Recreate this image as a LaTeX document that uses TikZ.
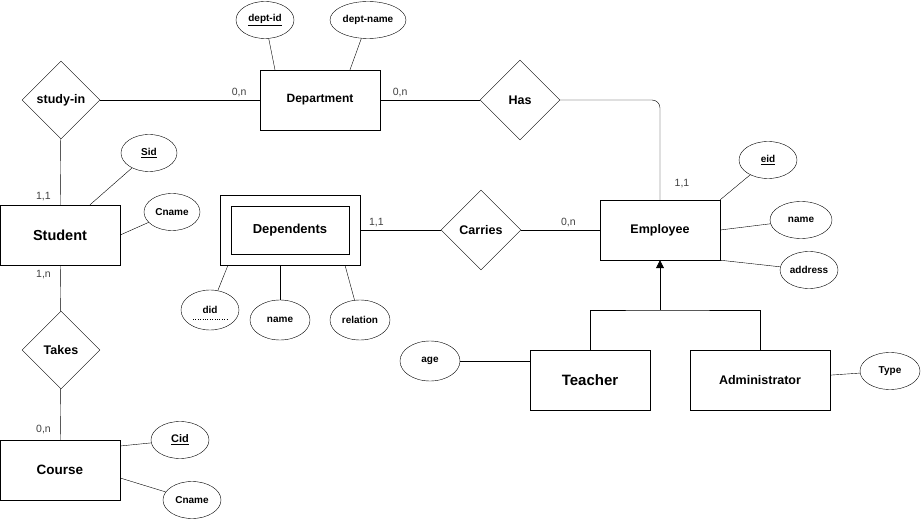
\documentclass[tikz,border=0pt]{standalone}
\usepackage{fontspec}
\setmainfont{Liberation Sans}
\usetikzlibrary{shapes.geometric, % For ellipse and diamond nodes
                arrows.meta,
                positioning,
               }
\tikzstyle{entity} = [rectangle, draw=black, minimum width=120pt, minimum height=60pt, font=\bfseries\fontsize{12}{14}\selectfont]
\tikzstyle{attr} = [ellipse, draw=black, inner sep=0pt, minimum width=58pt, minimum height=37pt, font=\bfseries\fontsize{10}{12}\selectfont]
\tikzstyle{rel} = [diamond, draw=black, inner sep=0pt, minimum width=80pt, minimum height=80pt, font=\bfseries\fontsize{12.5}{14}\selectfont]
\tikzstyle{card} = [text=black!75, font=\fontsize{10.5}{12}\selectfont]
\tikzstyle{link} = [draw=black]

\begin{document}
\begin{tikzpicture}[x=1pt, y=-1pt]
  \useasboundingbox (0,0) rectangle (921,521);
  % entities
  \node (dept) [entity] at (320,100) {Department};
  \node (student) [entity, font=\bfseries\fontsize{14.5}{16}\selectfont] at (60,235) {Student};
  \node (course) [entity, font=\bfseries\fontsize{13.5}{16}\selectfont] at (60,470) {Course};
  \node (emp) [entity, font=\bfseries\fontsize{12.5}{14}\selectfont] at (660,230) {Employee};
  \node (teacher) [entity, font=\bfseries\fontsize{15}{17}\selectfont] at (590,380) {Teacher};
  \node (admin) [entity, minimum width=140pt, font=\bfseries\fontsize{12.5}{14}\selectfont] at (760,380) {Administrator};
  \node (depo) [entity, minimum width=140pt, minimum height=70pt] at (290,230) {};
  \node (dep) [entity, minimum width=118pt, minimum height=48pt, font=\bfseries\fontsize{13}{15}\selectfont] at (290,230) {Dependents};

  % relationships
  \node (study) [rel, minimum width=78pt, minimum height=78pt] at (61,100) {study-in};
  \node (has) [rel] at (520,100) {Has};
  \node (takes) [rel, minimum width=78pt, minimum height=78pt] at (61,350) {Takes};
  \node (carries) [rel] at (481,230) {Carries};

  % attributes
  \node (deptid) [attr] at (265,20) {\underline{dept-id}};
  \node (deptname) [attr, minimum width=76pt] at (368,20) {dept-name};
  \node (sid) [attr, minimum width=56pt] at (149,153) {\underline{Sid}};
  \node (scname) [attr, minimum width=56pt] at (172,212) {Cname};
  \node (cid) [attr, font=\bfseries\fontsize{11}{13}\selectfont] at (180,440) {\underline{Cid}};
  \node (ccname) [attr] at (192,500) {Cname};
  \node (did) [attr, minimum height=40pt] at (210,310) {did};
  \node (dname) [attr, minimum width=60pt, minimum height=40pt] at (280,320) {name};
  \node (drel) [attr, minimum width=60pt, minimum height=40pt] at (360,320) {relation};
  \node (eid) [attr] at (768,160) {\underline{eid}};
  \node (ename) [attr, minimum width=62pt] at (801,220) {name};
  \node (eaddr) [attr] at (809,270) {address};
  \node (age) [attr, minimum width=60pt, minimum height=40pt] at (430,361) {age};
  \node (type) [attr, minimum width=60pt] at (890,371) {Type};
  \draw [dotted] ([xshift=-17pt, yshift=-9pt]did.center) -- ([xshift=17pt, yshift=-9pt]did.center);

  % connectors
  \draw [link] (study) -- node [card, pos=0.87, above] {0,n} (dept);
  \draw [link] (dept) -- node [card, pos=0.2, above] {0,n} (has);
  \draw [link, rounded corners=8pt] (has.east) -| (emp.north);
  \node [card] at (682,184) {1,1};
  \draw [link] (study) -- node [card, pos=0.88, left, xshift=-6pt] {1,1} (student);
  \draw [link] (student) -- node [card, pos=0.2, left, xshift=-6pt] {1,n} (takes);
  \draw [link] (takes) -- node [card, pos=0.8, left, xshift=-6pt] {0,n} (course);
  \draw [link] (depo) -- node [card, pos=0.2, above] {1,1} (carries);
  \draw [link] (carries) -- node [card, pos=0.6, above] {0,n} (emp);

  \draw [link] (deptid) -- (dept.north -| 275,0);
  \draw [link] (deptname) -- (dept.north -| 350,0);
  \draw [link] (sid) -- (student.north -| 90,0);
  \draw [link] (scname) -- (student.east);
  \draw [link] (cid) -- (course.east |- 0,446);
  \draw [link] (ccname) -- (course.east |- 0,478);
  \draw [link] (did) -- (depo.south -| 228,0);
  \draw [link] (dname) -- (depo.south -| 280,0);
  \draw [link] (drel) -- (depo.south -| 345,0);
  \draw [link] (eid) -- (emp.north east);
  \draw [link] (ename) -- (emp.east);
  \draw [link] (eaddr) -- (emp.south east);
  \draw [link] (age) -- (teacher.west |- 0,361);
  \draw [link] (admin) -- (type);

  % generalisation
  \coordinate (isa) at (660,310);
  \draw [semithick] (teacher.north) |- (isa) -| (admin.north);
  \draw [semithick, -{Triangle[length=8pt, width=8pt]}] (isa) -- (emp.south);
\end{tikzpicture}
\end{document}
